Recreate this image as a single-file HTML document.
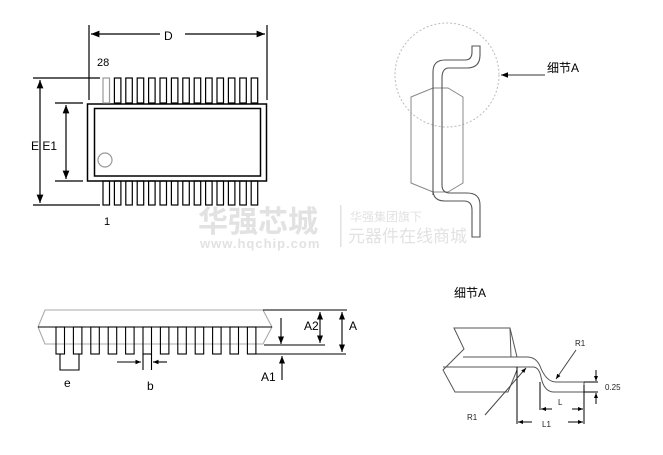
<!DOCTYPE html>
<html><head><meta charset="utf-8"><style>
html,body{margin:0;padding:0;background:#fff;}
svg{display:block;font-family:"Liberation Sans","Noto Sans CJK SC",sans-serif;}
</style></head><body>
<svg width="663" height="455" viewBox="0 0 663 455" xmlns="http://www.w3.org/2000/svg">
<defs>
<marker id="ar" viewBox="0 0 10 10" refX="10" refY="5" markerWidth="7" markerHeight="7" orient="auto-start-reverse"><path d="M0,1 L10,5 L0,9 z" fill="#000"/></marker>
<marker id="as" viewBox="0 0 10 10" refX="10" refY="5" markerWidth="5" markerHeight="5" orient="auto-start-reverse"><path d="M0,1 L10,5 L0,9 z" fill="#000"/></marker>
</defs>
<!-- watermark -->
<g fill="#e2e2e2">
<text x="198" y="232" font-size="30" font-weight="bold">华强芯城</text>
<text x="200" y="248" font-size="13" font-weight="bold" letter-spacing="1">www.hqchip.com</text>
<rect x="340" y="205" width="1.5" height="42"/>
<text x="350" y="221" font-size="12">华强集团旗下</text>
<text x="348" y="242" font-size="17">元器件在线商城</text>
</g>

<!-- TOP VIEW -->
<g stroke="#000" stroke-width="1.2" fill="none">
<line x1="89" y1="25" x2="89" y2="100"/>
<line x1="267" y1="25" x2="267" y2="100"/>
<line x1="91" y1="34" x2="160" y2="34" marker-start="url(#ar)"/>
<line x1="185" y1="34" x2="265" y2="34" marker-end="url(#ar)"/>
<line x1="33" y1="78" x2="100" y2="78"/>
<line x1="33" y1="205" x2="100" y2="205"/>
<line x1="40" y1="80" x2="40" y2="203" marker-start="url(#ar)" marker-end="url(#ar)"/>
<line x1="55" y1="103" x2="83" y2="103"/>
<line x1="55" y1="181" x2="83" y2="181"/>
<line x1="66" y1="105" x2="66" y2="179" marker-start="url(#ar)" marker-end="url(#ar)"/>
<rect x="87.5" y="104" width="179" height="77" stroke-width="1.5"/>
<rect x="94.5" y="108.5" width="166" height="67.5" stroke-width="1.5"/>
<circle cx="105" cy="160" r="7" stroke="#999"/>
<g id="tp">
<rect x="103" y="78" width="6.5" height="25" stroke="#999"/>
<rect x="114.4" y="78" width="6.5" height="25"/><rect x="125.8" y="78" width="6.5" height="25"/><rect x="137.2" y="78" width="6.5" height="25"/><rect x="148.6" y="78" width="6.5" height="25"/><rect x="160" y="78" width="6.5" height="25"/><rect x="171.4" y="78" width="6.5" height="25"/><rect x="182.8" y="78" width="6.5" height="25"/><rect x="194.2" y="78" width="6.5" height="25"/><rect x="205.6" y="78" width="6.5" height="25"/><rect x="217" y="78" width="6.5" height="25"/><rect x="228.4" y="78" width="6.5" height="25"/><rect x="239.8" y="78" width="6.5" height="25"/><rect x="251.2" y="78" width="6.5" height="25"/>
</g>
<g>
<rect x="103" y="181" width="6.5" height="24"/><rect x="114.4" y="181" width="6.5" height="24"/><rect x="125.8" y="181" width="6.5" height="24"/><rect x="137.2" y="181" width="6.5" height="24"/><rect x="148.6" y="181" width="6.5" height="24"/><rect x="160" y="181" width="6.5" height="24"/><rect x="171.4" y="181" width="6.5" height="24"/><rect x="182.8" y="181" width="6.5" height="24"/><rect x="194.2" y="181" width="6.5" height="24"/><rect x="205.6" y="181" width="6.5" height="24"/><rect x="217" y="181" width="6.5" height="24"/><rect x="228.4" y="181" width="6.5" height="24"/><rect x="239.8" y="181" width="6.5" height="24"/><rect x="251.2" y="181" width="6.5" height="24"/>
</g>
</g>
<g font-size="12" fill="#000">
<text x="164" y="40">D</text>
<text x="97" y="66" font-size="11">28</text>
<text x="31" y="150">E E1</text>
<text x="104" y="225" font-size="11">1</text>
</g>

<!-- RIGHT SIDE VIEW -->
<g fill="none">
<circle cx="447" cy="75" r="52" stroke="#bbb" stroke-dasharray="2,2"/>
<polygon points="411,97 433,88 448,88 463,97 463,183 448,192 433,192 411,183" stroke="#888"/>
<path d="M433,195 L433,72 Q433,60 445,60 L465,60 Q472,60 472,52 L472,46 L480,46 L480,55 Q480,68 467,68 L449,68 Q442,68 442,78 L442,185 Q442,193 450,193 L467,193 Q480,193 480,205 L480,237 L472,237 L472,210 Q472,201 464,201 L445,201 Q433,201 433,190" stroke="#555" stroke-width="1.1"/>
<line x1="545" y1="75" x2="501" y2="75" stroke="#333" marker-end="url(#ar)"/>
</g>
<text x="547" y="72" font-size="12">细节A</text>

<!-- SIDE VIEW -->
<g fill="none" stroke-width="1.1">
<path d="M45,344 L38,327 L45,310 L263,310 L272,327 L263,344 Z" stroke="#aaa"/>
<line x1="38" y1="327" x2="272" y2="327" stroke="#000"/>
<g stroke="#000">
<rect x="56" y="327" width="8.5" height="27"/><rect x="73.4" y="327" width="8.5" height="27"/><rect x="90.8" y="327" width="8.5" height="27"/><rect x="108.2" y="327" width="8.5" height="27"/><rect x="125.6" y="327" width="8.5" height="27"/><rect x="143" y="327" width="8.5" height="27"/><rect x="160.4" y="327" width="8.5" height="27"/><rect x="177.8" y="327" width="8.5" height="27"/><rect x="195.2" y="327" width="8.5" height="27"/><rect x="212.6" y="327" width="8.5" height="27"/><rect x="230" y="327" width="8.5" height="27"/><rect x="247.4" y="327" width="8.5" height="27"/>
<polyline points="60,354 60,370 79,370 79,354"/>
<line x1="143" y1="354" x2="143" y2="370"/><line x1="151.5" y1="354" x2="151.5" y2="370"/>
<line x1="117" y1="362" x2="141" y2="362" marker-end="url(#as)"/>
<line x1="167" y1="362" x2="153" y2="362" marker-end="url(#as)"/>
<line x1="263" y1="310" x2="347" y2="310"/>
<line x1="264" y1="345" x2="325" y2="345"/>
<line x1="256" y1="354" x2="346" y2="354"/>
<line x1="320" y1="312" x2="320" y2="343" marker-start="url(#ar)" marker-end="url(#ar)"/>
<line x1="342" y1="312" x2="342" y2="352" marker-start="url(#ar)" marker-end="url(#ar)"/>
<line x1="281" y1="318" x2="281" y2="344" marker-end="url(#ar)"/>
<line x1="282" y1="380" x2="282" y2="356" marker-end="url(#ar)"/>
</g>
</g>
<g font-size="12">
<text x="64" y="387">e</text>
<text x="147" y="390">b</text>
<text x="304" y="330">A2</text>
<text x="349" y="330">A</text>
<text x="261" y="381">A1</text>
</g>

<!-- DETAIL A -->
<text x="454" y="297" font-size="12">细节A</text>
<g fill="none" stroke="#555" stroke-width="1">
<polyline points="511,357 510,328 454,328 464,349 443,370 455,392 508,392 517,370"/>
<line x1="510" y1="328" x2="517" y2="357"/>
<path d="M463,357 L527,357 Q536,357 540,366 Q546,382 556,382 L584,382"/>
<path d="M443,367 L533,367 Q539,367 541,377 Q544,392 554,392 L584,392 L584,382"/>
</g>
<g stroke="#000" stroke-width="1" fill="none">
<line x1="517" y1="367" x2="517" y2="424"/>
<line x1="540" y1="382" x2="540" y2="410"/>
<line x1="584" y1="385" x2="584" y2="424"/>
<line x1="584" y1="382" x2="598" y2="382"/>
<line x1="584" y1="392" x2="598" y2="392"/>
<line x1="596" y1="370" x2="596" y2="381" marker-end="url(#as)"/>
<line x1="596" y1="404" x2="596" y2="393" marker-end="url(#as)"/>
<line x1="552" y1="409" x2="541" y2="409" marker-end="url(#as)"/>
<line x1="572" y1="409" x2="583" y2="409" marker-end="url(#as)"/>
<line x1="532" y1="422" x2="518" y2="422" marker-end="url(#as)"/>
<line x1="568" y1="422" x2="583" y2="422" marker-end="url(#as)"/>
<line x1="576" y1="350" x2="556" y2="379" stroke="#444" marker-end="url(#as)"/>
<line x1="485" y1="415" x2="526" y2="368" stroke="#444" marker-end="url(#as)"/>
</g>
<g font-size="8" fill="#222">
<text x="575" y="346">R1</text>
<text x="467" y="420">R1</text>
<text x="558" y="405">L</text>
<text x="542" y="427">L1</text>
<text x="605" y="390">0.25</text>
</g>
</svg>
</body></html>
